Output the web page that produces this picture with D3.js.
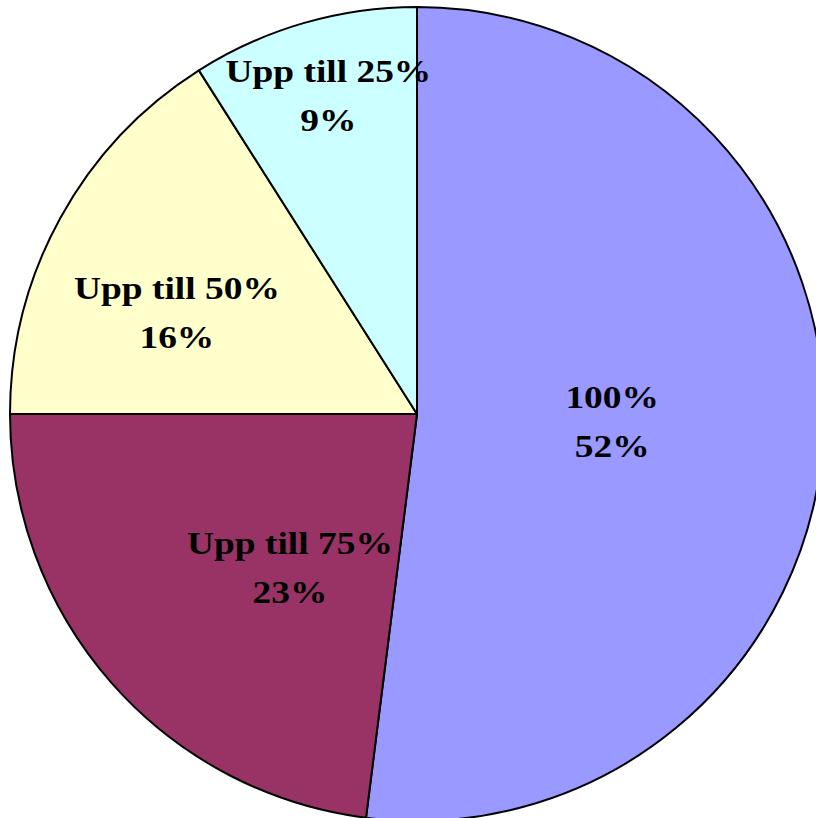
<!DOCTYPE html>
<html>
<head>
<meta charset="utf-8">
<script src="https://cdn.jsdelivr.net/npm/d3@7"></script>
<style>
  body { margin: 0; background: #fff; }
  svg { display: block; }
  .lbl { font-family: "Liberation Serif", "Times New Roman", serif; font-weight: bold; font-size: 32px; fill: #000; }
</style>
</head>
<body>
<figure id="pie" style="margin:0"></figure>
<script>
// data
const categories = ["100%", "Upp till 75%", "Upp till 50%", "Upp till 25%"];
const shares = [52, 23, 16, 9];
const colors = ["#9999FF", "#993366", "#FFFFCC", "#CCFFFF"];

// where each label sits: fraction of radius along the slice's mid angle, plus angle nudge (deg)
const labelRadius = [0.48, 0.49, 0.64, 0.81];
const labelNudge = [-1.2, -9, -6, 0.6];

let dimensions = {
	width: 816,
	height: 818,
	cx: 417,
	cy: 414,
	radius: 407,
};

var svg = d3.select("figure#pie")
	.append("svg")
	.attr("width", dimensions.width)
	.attr("height", dimensions.height)
	.append("g")
	.attr("transform", `translate(${dimensions.cx},${dimensions.cy})`);

var data = categories.map((c, i) => ({ name: c, value: shares[i], color: colors[i], i: i }));

var pie = d3.pie()
	.value(d => d.value)
	.sort(null);

var arc = d3.arc()
	.innerRadius(0)
	.outerRadius(dimensions.radius);

var arcs = pie(data);

svg.selectAll("path")
	.data(arcs)
	.enter()
		.append("path")
		.attr("d", arc)
		.attr("fill", d => d.data.color)
		.attr("stroke", "#000")
		.attr("stroke-width", 2)
		.attr("stroke-linejoin", "round");

var labels = svg.selectAll("g.label")
	.data(arcs)
	.enter()
		.append("g")
		.attr("class", "label")
		.attr("transform", d => {
			let a = (d.startAngle + d.endAngle) / 2 + labelNudge[d.data.i] * Math.PI / 180;
			let r = labelRadius[d.data.i] * dimensions.radius;
			// old bitmap text in the source is stretched sideways a bit
			return `translate(${Math.sin(a) * r},${-Math.cos(a) * r}) scale(1.17,1)`;
		});

labels.append("text")
	.attr("class", "lbl")
	.attr("text-anchor", "middle")
	.attr("y", -14)
	.text(d => d.data.name);

labels.append("text")
	.attr("class", "lbl")
	.attr("text-anchor", "middle")
	.attr("y", 35)
	.text(d => d.data.value + "%");
</script>
</body>
</html>
